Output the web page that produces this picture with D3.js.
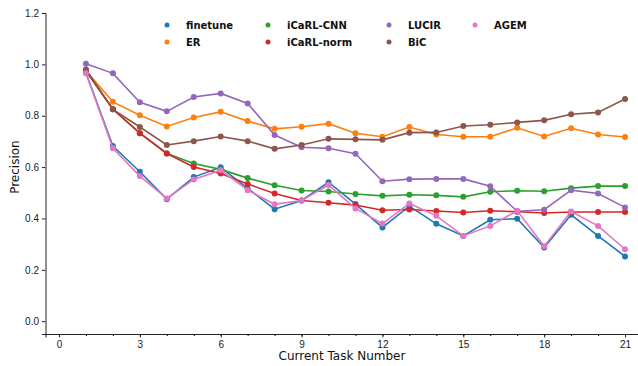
<!DOCTYPE html>
<html>
<head>
<meta charset="utf-8">
<script src="https://cdn.jsdelivr.net/npm/d3@7"></script>
<style>
  body { margin: 0; background: #fff; }
  svg { display: block; font-family: "DejaVu Sans", sans-serif; }
</style>
</head>
<body>
<div id="chart"></div>
<script>
// task numbers on x
const tasks = d3.range(1, 22);

// precision per method
const finetune  = [0.967, 0.682, 0.582, 0.475, 0.561, 0.599, 0.517, 0.436, 0.470, 0.541, 0.456, 0.365, 0.448, 0.379, 0.332, 0.395, 0.399, 0.287, 0.414, 0.332, 0.252];
const er        = [0.975, 0.854, 0.802, 0.758, 0.793, 0.815, 0.779, 0.749, 0.757, 0.769, 0.732, 0.718, 0.756, 0.727, 0.718, 0.718, 0.753, 0.719, 0.751, 0.727, 0.717];
const icarlCnn  = [0.975, 0.825, 0.732, 0.653, 0.614, 0.591, 0.557, 0.529, 0.509, 0.505, 0.495, 0.488, 0.492, 0.490, 0.484, 0.504, 0.508, 0.506, 0.518, 0.526, 0.526];
const icarlNorm = [0.975, 0.825, 0.732, 0.653, 0.600, 0.575, 0.534, 0.497, 0.470, 0.461, 0.452, 0.432, 0.435, 0.429, 0.423, 0.430, 0.426, 0.421, 0.425, 0.425, 0.425];
const lucir     = [1.002, 0.965, 0.852, 0.817, 0.873, 0.887, 0.848, 0.725, 0.677, 0.673, 0.652, 0.545, 0.553, 0.554, 0.554, 0.525, 0.428, 0.434, 0.510, 0.497, 0.443];
const bic       = [0.980, 0.825, 0.756, 0.686, 0.701, 0.719, 0.701, 0.671, 0.686, 0.710, 0.708, 0.706, 0.734, 0.735, 0.760, 0.765, 0.774, 0.782, 0.806, 0.813, 0.865];
const agem      = [0.965, 0.673, 0.565, 0.478, 0.552, 0.588, 0.510, 0.455, 0.470, 0.530, 0.439, 0.380, 0.458, 0.410, 0.332, 0.371, 0.430, 0.292, 0.427, 0.371, 0.280];

const names  = ["finetune", "ER", "iCaRL-CNN", "iCaRL-norm", "LUCIR", "BiC", "AGEM"];
const colors = ["#1f77b4", "#ff7f0e", "#2ca02c", "#d62728", "#9467bd", "#8c564b", "#e377c2"];
const series = [finetune, er, icarlCnn, icarlNorm, lucir, bic, agem];

const yTicks = [0.0, 0.2, 0.4, 0.6, 0.8, 1.0, 1.2];
const xTicks = [0, 3, 6, 9, 12, 15, 18, 21];

const width = 638, height = 366;

const svg = d3.select("#chart").append("svg")
    .attr("width", width)
    .attr("height", height);

// scales
const x = d3.scaleLinear().domain([-0.5, 21.5]).range([45.5, 638.5]);
const y = d3.scaleLinear().domain([-0.05, 1.2]).range([334, 13]);

// x axis (major every 3, minor every task)
svg.append("g")
    .attr("transform", "translate(0," + y(-0.05) + ")")
    .call(d3.axisBottom(x).tickValues(d3.range(0, 22)).tickSize(2).tickFormat(""))
    .call(g => g.select(".domain").remove());

const xAxis = svg.append("g")
    .attr("transform", "translate(0," + y(-0.05) + ")")
    .call(d3.axisBottom(x).tickValues(xTicks).tickSize(3.5).tickPadding(3).tickFormat(d3.format("d")));

// y axis
const yAxis = svg.append("g")
    .attr("transform", "translate(" + x(-0.5) + ",0)")
    .call(d3.axisLeft(y).tickValues(yTicks).tickSize(3.5).tickPadding(3).tickFormat(d3.format(".1f")));

[xAxis, yAxis].forEach(g => {
    g.selectAll("text").style("font-size", "10px").attr("fill", "#222");
    g.selectAll("line").attr("stroke", "#222");
    g.select(".domain").attr("stroke", "#222").attr("stroke-width", 1);
});

// axis labels
svg.append("text")
    .attr("x", 342)
    .attr("y", 360)
    .attr("text-anchor", "middle")
    .style("font-size", "12px")
    .attr("fill", "#111")
    .text("Current Task Number");

svg.append("text")
    .attr("transform", "translate(19," + y(0.6) + ") rotate(-90)")
    .attr("text-anchor", "middle")
    .style("font-size", "12px")
    .attr("fill", "#111")
    .text("Precision");

// lines + markers
const line = d3.line()
    .x((d, i) => x(tasks[i]))
    .y(d => y(d));

series.forEach(function (vals, k) {
    let g = svg.append("g");
    g.append("path")
        .datum(vals)
        .attr("d", line)
        .attr("fill", "none")
        .attr("stroke", colors[k])
        .attr("stroke-width", 1.6);
    g.selectAll("circle")
        .data(vals)
        .enter()
        .append("circle")
        .attr("cx", (d, i) => x(tasks[i]))
        .attr("cy", d => y(d))
        .attr("r", 3)
        .attr("fill", colors[k]);
});

// legend, 4 columns filled column-wise
const legCols = [167, 268, 389, 475];
const legRows = [25, 42];
names.forEach(function (name, k) {
    let cx = legCols[Math.floor(k / 2)];
    let cy = legRows[k % 2];
    svg.append("circle")
        .attr("cx", cx)
        .attr("cy", cy)
        .attr("r", 2.5)
        .attr("fill", colors[k]);
    svg.append("text")
        .attr("x", cx + 19)
        .attr("y", cy + 3.8)
        .style("font-size", "10px")
        .style("font-weight", "bold")
        .attr("fill", "#111")
        .text(name);
});
</script>
</body>
</html>
